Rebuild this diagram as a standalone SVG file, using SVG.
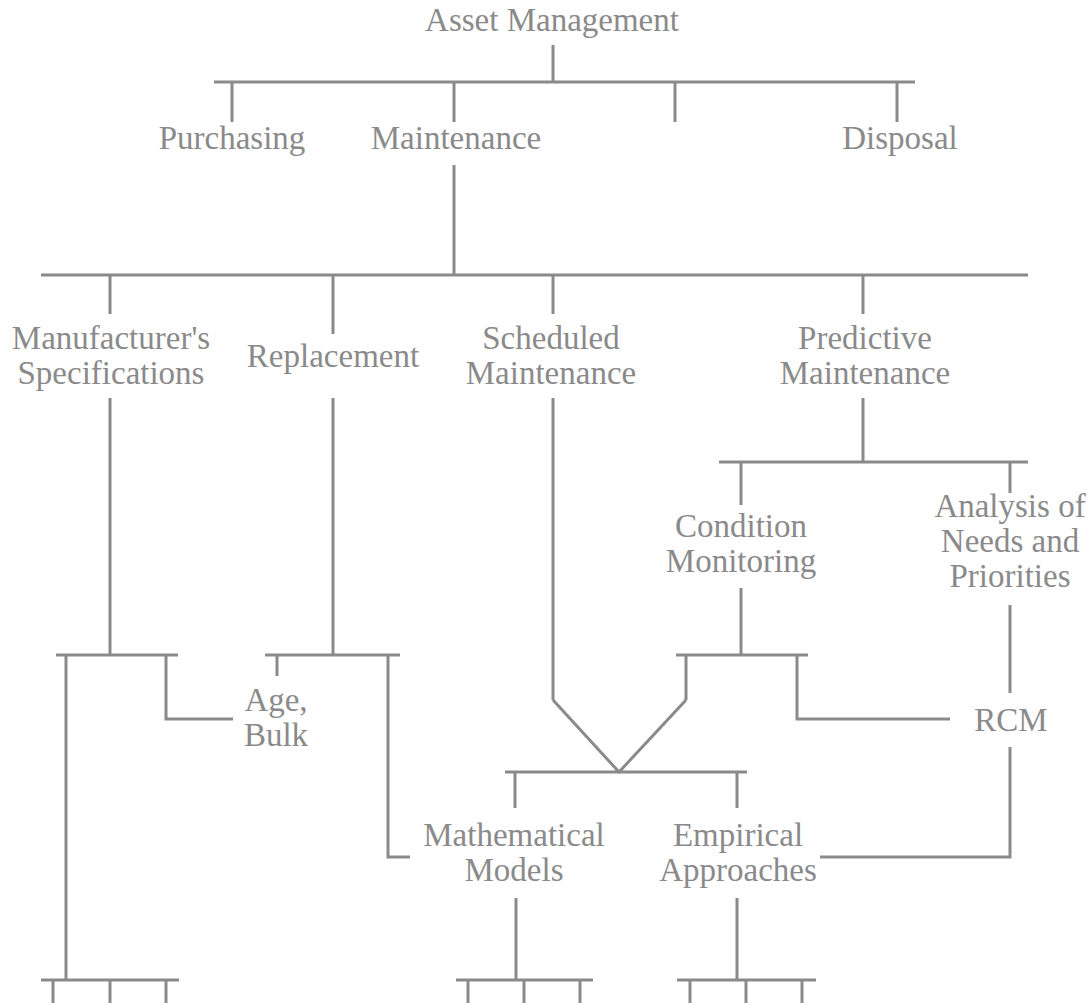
<svg xmlns="http://www.w3.org/2000/svg" width="1091" height="1003" viewBox="0 0 1091 1003">
<style>
text{font-family:"Liberation Serif","Times New Roman",serif;font-size:33px;fill:#8a8a8a;text-anchor:middle}
.c path{fill:none;stroke:#8a8a8a;stroke-width:3}
</style>
<rect width="1091" height="1003" fill="#fff"/>
<g class="c" id="connectors">
<path d="M553 45V82M214 82H915M232 82V122M454 82V122M675 82V122M897 82V122"/>
<path d="M454 165V275M41 275H1028M110 275V314M333 275V334M553 275V314M863 275V314"/>
<path d="M110 398V655M333 398V655M553 398V700M863 398V462"/>
<path d="M719 462H1028M741 462V505M1010 462V493"/>
<path d="M741 588V655M676 655H808M686 655V700M797 655V719H950"/>
<path d="M1010 605V693M1010 747V857H820"/>
<path d="M553 700L619 772L686 700M505 772H747M515 772V808M737 772V808"/>
<path d="M56 655H178M66 655V980M166 655V719H233M265 655H400M277 655V676M388 655V857H410"/>
<path d="M516 898V980M737 898V980"/>
<path d="M41 980H179M53 980V1003M110 980V1003M166 980V1003"/>
<path d="M456 980H593M468 980V1003M524 980V1003M580 980V1003"/>
<path d="M677 980H816M690 980V1003M746 980V1003M802 980V1003"/>
</g>
<g id="n-asset"><text x="552" y="31">Asset Management</text></g>
<g id="n-purchasing"><text x="232" y="149">Purchasing</text></g>
<g id="n-maintenance"><text x="456" y="149">Maintenance</text></g>
<g id="n-disposal"><text x="900" y="149">Disposal</text></g>
<g id="n-manuf"><text x="111" y="349">Manufacturer's</text><text x="111" y="384">Specifications</text></g>
<g id="n-replacement"><text x="333" y="367">Replacement</text></g>
<g id="n-scheduled"><text x="551" y="349">Scheduled</text><text x="551" y="384">Maintenance</text></g>
<g id="n-predictive"><text x="865" y="349">Predictive</text><text x="865" y="384">Maintenance</text></g>
<g id="n-condition"><text x="741" y="537">Condition</text><text x="741" y="572">Monitoring</text></g>
<g id="n-analysis"><text x="1010" y="517">Analysis of</text><text x="1010" y="552">Needs and</text><text x="1010" y="587">Priorities</text></g>
<g id="n-agebulk"><text x="276" y="711">Age,</text><text x="276" y="746">Bulk</text></g>
<g id="n-rcm"><text x="1011" y="731">RCM</text></g>
<g id="n-math"><text x="514" y="846">Mathematical</text><text x="514" y="881">Models</text></g>
<g id="n-empirical"><text x="738" y="846">Empirical</text><text x="738" y="881">Approaches</text></g>
</svg>
